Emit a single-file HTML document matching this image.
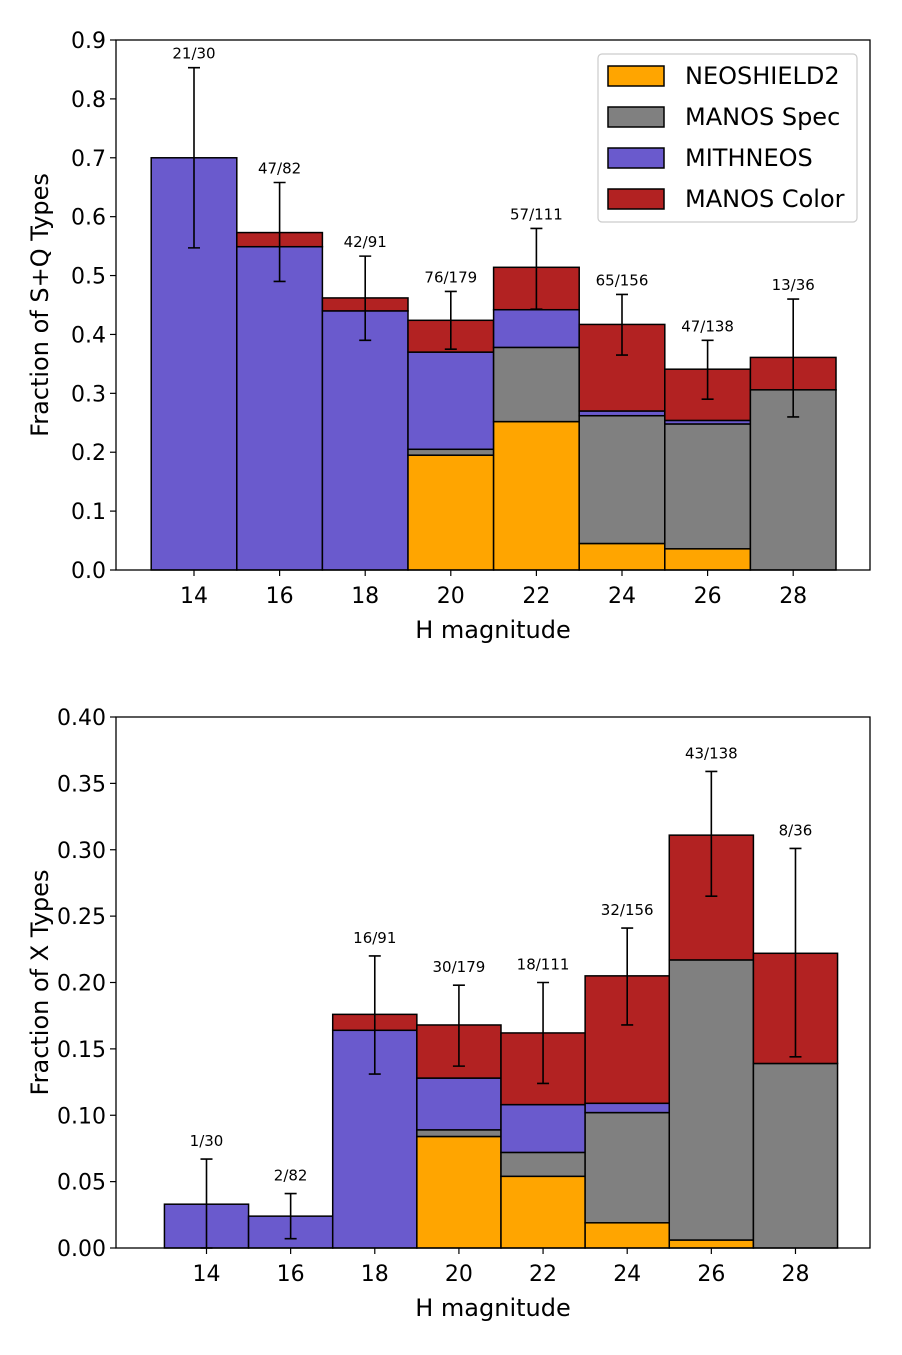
<!DOCTYPE html>
<html><head><meta charset="utf-8"><style>
body{margin:0;background:#fff;}
svg{display:block;font-family:"DejaVu Sans","Liberation Sans",sans-serif;}
</style></head><body>
<svg id="c" width="902" height="1355" viewBox="0 0 902 1355"></svg>
<script>
const categories=[14,16,18,20,22,24,26,28];
const seriesNames=["NEOSHIELD2","MANOS Spec","MITHNEOS","MANOS Color"];
const seriesColors=["#FFA500","#808080","#6A5ACD","#B22222"];
const topNeo=[0,0,0,0.195,0.252,0.045,0.036,0];
const topSpec=[0,0,0,0.010,0.126,0.217,0.212,0.306];
const topMith=[0.70,0.549,0.44,0.165,0.064,0.008,0.006,0];
const topColor=[0,0.024,0.022,0.054,0.072,0.147,0.087,0.055];
const topErrLo=[0.547,0.49,0.39,0.375,0.443,0.365,0.29,0.26];
const topErrHi=[0.853,0.658,0.533,0.473,0.58,0.468,0.39,0.46];
const topLabels=["21/30","47/82","42/91","76/179","57/111","65/156","47/138","13/36"];
const topTicks=[0,0.1,0.2,0.3,0.4,0.5,0.6,0.7,0.8,0.9];
const botNeo=[0,0,0,0.084,0.054,0.019,0.006,0];
const botSpec=[0,0,0,0.005,0.018,0.083,0.211,0.139];
const botMith=[0.033,0.024,0.164,0.039,0.036,0.007,0,0];
const botColor=[0,0,0.012,0.040,0.054,0.096,0.094,0.083];
const botErrLo=[0,0.007,0.131,0.137,0.124,0.168,0.265,0.144];
const botErrHi=[0.067,0.041,0.22,0.198,0.2,0.241,0.359,0.301];
const botLabels=["1/30","2/82","16/91","30/179","18/111","32/156","43/138","8/36"];
const botTicks=[0,0.05,0.10,0.15,0.20,0.25,0.30,0.35,0.40];

const svg=document.getElementById('c');
const NS='http://www.w3.org/2000/svg';
function mk(tag,attrs,parent){const e=document.createElementNS(NS,tag);for(const k in attrs)e.setAttribute(k,attrs[k]);(parent||svg).appendChild(e);return e;}

function chart(o){
  const g=mk('g',{});
  
  
  const X=v=>o.x0+(v-14)*o.xs;
  const Y=v=>o.yb-(v/o.ymax)*(o.yb-o.yt);
  const series=[o.neo,o.spec,o.mith,o.color];
  categories.forEach((c,i)=>{
    let cum=0;
    series.forEach((s,k)=>{
      if(s[i]<=0)return;
      const r=mk('rect',{x:X(c-1),y:Y(cum+s[i]),width:X(c+1)-X(c-1),height:Y(cum)-Y(cum+s[i]),fill:seriesColors[k],stroke:'#000','stroke-width':1.5},g);
      
      
      cum+=s[i];
    });
    const x=X(c);
    const e=mk('path',{d:`M${x},${Y(o.lo[i])}V${Y(o.hi[i])}M${x-6},${Y(o.lo[i])}H${x+6}M${x-6},${Y(o.hi[i])}H${x+6}`,stroke:'#000','stroke-width':1.6,fill:'none'},g);
    
    
    const t=mk('text',{x:x,y:Y(o.hi[i])-o.lab,'text-anchor':'middle','font-size':15},g);
    t.textContent=o.labels[i];
    
    
  });
  const ax=mk('rect',{x:o.l,y:o.yt,width:o.r-o.l,height:o.yb-o.yt,fill:'none',stroke:'#000','stroke-width':1.3},g);
  
  
  o.ticks.forEach(v=>{
    mk('line',{x1:o.l-6,x2:o.l,y1:Y(v),y2:Y(v),stroke:'#000','stroke-width':1.2},g);
    const t=mk('text',{x:o.l-10,y:Y(v)+8,'text-anchor':'end','font-size':22},g);
    t.textContent=v.toFixed(o.dec);
    
    
  });
  categories.forEach(c=>{
    mk('line',{x1:X(c),x2:X(c),y1:o.yb,y2:o.yb+6,stroke:'#000','stroke-width':1.2},g);
    const t=mk('text',{x:X(c),y:o.yb+33,'text-anchor':'middle','font-size':22},g);
    t.textContent=c;
    
    
  });
  const xl=mk('text',{x:(o.l+o.r)/2,y:o.yb+68,'text-anchor':'middle','font-size':24},g);
  xl.textContent='H magnitude';
  
  
  const yc=(o.yt+o.yb)/2;
  const yl=mk('text',{x:48,y:yc,'text-anchor':'middle','font-size':24,transform:`rotate(-90 48 ${yc})`},g);
  yl.textContent=o.ylabel;
  
  
}
chart({name:'sq-fraction-chart',x0:194,xs:42.8,yb:570,yt:40,ymax:0.9,l:116,r:870,neo:topNeo,spec:topSpec,mith:topMith,color:topColor,lo:topErrLo,hi:topErrHi,labels:topLabels,ticks:topTicks,dec:1,lab:9,ylabel:'Fraction of S+Q Types'});
chart({name:'x-fraction-chart',x0:206.5,xs:42.07,yb:1248,yt:717,ymax:0.4,l:116,r:870,neo:botNeo,spec:botSpec,mith:botMith,color:botColor,lo:botErrLo,hi:botErrHi,labels:botLabels,ticks:botTicks,dec:2,lab:13,ylabel:'Fraction of X Types'});

const lg=mk('g',{});


mk('rect',{x:598,y:54,width:259,height:168,rx:4,fill:'#fff',stroke:'#ccc','stroke-width':1.2},lg);
seriesNames.forEach((n,k)=>{
  const y=66+k*41;
  mk('rect',{x:608,y:y,width:56,height:20,fill:seriesColors[k],stroke:'#000','stroke-width':1.5},lg);
  const t=mk('text',{x:685,y:y+18,'font-size':24},lg);
  t.textContent=n;
  
  
});
</script>
</body></html>
